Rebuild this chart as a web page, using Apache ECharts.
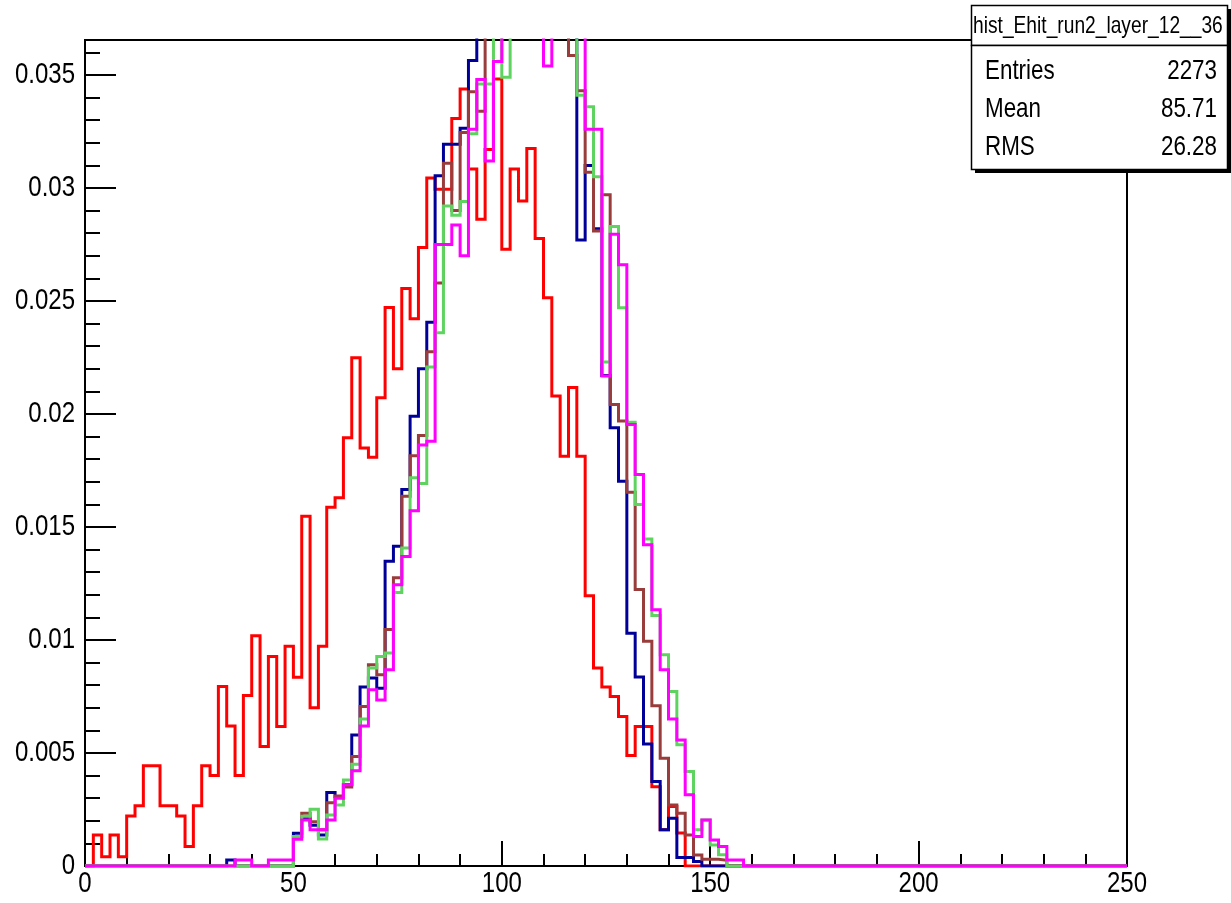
<!DOCTYPE html>
<html>
<head>
<meta charset="utf-8">
<title>hist_Ehit_run2_layer_12__36</title>
<script src="https://cdn.jsdelivr.net/npm/echarts@6.0.0/dist/echarts.min.js"></script>
<style>
  html, body { margin: 0; padding: 0; background: #fff; }
  #chart { width: 1231px; height: 903px; }
</style>
</head>
<body>
<div id="chart"></div>
<script>
// histogram contents, bins of width 2 starting at 0 (bins after the list are empty)
const binWidth = 2;
const nBins = 125;

const red = [
  0, 0.00137, 0.00041, 0.00137, 0.00041, 0.00221, 0.00267, 0.00444, 0.00444, 0.00267,
  0.00267, 0.00221, 0.00086, 0.00267, 0.00444, 0.00400, 0.00794, 0.00620, 0.00400, 0.00755,
  0.01019, 0.00529, 0.00927, 0.00617, 0.00972, 0.00835, 0.01548, 0.00700, 0.00972, 0.01587,
  0.01629, 0.01895, 0.02249, 0.01850, 0.01809, 0.02072, 0.02471, 0.02200, 0.02555, 0.02422,
  0.02737, 0.03044, 0.02995, 0.02995, 0.03308, 0.03438, 0.03084, 0.02862, 0.03170, 0.03482,
  0.02729, 0.03084, 0.02943, 0.03175, 0.02777, 0.02515, 0.02080, 0.01813, 0.02117, 0.01813,
  0.01196, 0.00876, 0.00792, 0.00750, 0.00662, 0.00489, 0.00617, 0.00617, 0.00351, 0.00160,
  0.00263, 0.00146
];

const blue = [
  0, 0, 0, 0, 0, 0, 0, 0, 0, 0,
  0, 0, 0, 0, 0, 0, 0, 0.00027, 0, 0,
  0, 0, 0, 0, 0, 0.00145, 0.00211, 0.00180, 0.00137, 0.00325,
  0.00307, 0.00360, 0.00580, 0.00792, 0.00832, 0.00787, 0.01348, 0.01415, 0.01666, 0.01990,
  0.02200, 0.02406, 0.03054, 0.03194, 0.03194, 0.03264, 0.03564, 0.0385, 0.0402, 0.0410,
  0.0423, 0.0431, 0.0420, 0.0414, 0.0406, 0.0399, 0.0387, 0.0379, 0.0374, 0.02770,
  0.03100, 0.02820, 0.02170, 0.01939, 0.01703, 0.01030, 0.00836, 0.00540, 0.00374, 0.00160,
  0.00211, 0.00038, 0.00038, 0.00020
];

const brown = [
  0, 0, 0, 0, 0, 0, 0, 0, 0, 0,
  0, 0, 0, 0, 0, 0, 0, 0, 0, 0,
  0, 0, 0, 0, 0, 0.00130, 0.00233, 0.00196, 0.00160, 0.00280,
  0.00310, 0.00350, 0.00484, 0.00706, 0.00890, 0.00846, 0.01046, 0.01275, 0.01636, 0.01815,
  0.01905, 0.02275, 0.02580, 0.03110, 0.02900, 0.03246, 0.03426, 0.03340, 0.0376, 0.0395,
  0.0408, 0.0417, 0.0422, 0.0416, 0.0409, 0.0398, 0.0389, 0.0378, 0.03586, 0.03430,
  0.03070, 0.02810, 0.02970, 0.02042, 0.01969, 0.01654, 0.01223, 0.00994, 0.00709, 0.00477,
  0.00270, 0.00233, 0.00137, 0.00049, 0.00030, 0.00030, 0.00025
];

const green = [
  0, 0, 0, 0, 0, 0, 0, 0, 0, 0,
  0, 0, 0, 0, 0, 0, 0, 0, 0, 0,
  0, 0, 0, 0, 0, 0.00130, 0.00220, 0.00251, 0.00120, 0.00226,
  0.00270, 0.00380, 0.00450, 0.00650, 0.00876, 0.00927, 0.00942, 0.01210, 0.01407, 0.01718,
  0.01692, 0.02208, 0.02360, 0.02920, 0.02880, 0.02940, 0.03240, 0.03460, 0.03460, 0.0375,
  0.03490, 0.0382, 0.0396, 0.0405, 0.0409, 0.0401, 0.0392, 0.0384, 0.0373, 0.03410,
  0.03360, 0.03050, 0.02230, 0.02830, 0.02470, 0.01964, 0.01600, 0.01447, 0.01108, 0.00935,
  0.00772, 0.00536, 0.00418, 0.00160, 0.00204, 0.00093, 0.00050
];

const magenta = [
  0, 0, 0, 0, 0, 0, 0, 0, 0, 0,
  0, 0, 0, 0, 0, 0, 0, 0, 0.00027, 0.00027,
  0, 0, 0.00027, 0.00027, 0.00027, 0.00118, 0.00204, 0.00160, 0.00160, 0.00204,
  0.00300, 0.00360, 0.00422, 0.00620, 0.00780, 0.00735, 0.00868, 0.01245, 0.01370, 0.01572,
  0.01863, 0.01880, 0.02750, 0.02750, 0.02836, 0.02700, 0.03260, 0.03480, 0.03120, 0.03560,
  0.0381, 0.0394, 0.0402, 0.0397, 0.0383, 0.03540, 0.0379, 0.0390, 0.0386, 0.0375,
  0.03260, 0.03260, 0.02168, 0.02796, 0.02660, 0.01954, 0.01732, 0.01422, 0.01134, 0.00868,
  0.00651, 0.00558, 0.00315, 0.00130, 0.00204, 0.00115, 0.00086, 0.00027, 0.00027
];

const xTickLabels = ['0', '50', '100', '150', '200', '250'];
const yTickLabels = ['0', '0.005', '0.01', '0.015', '0.02', '0.025', '0.03', '0.035'];

const statsTitle = 'hist_Ehit_run2_layer_12__36';
const statsNames = ['Entries', 'Mean', 'RMS'];
const statsValues = ['2273', '85.71', '26.28'];

// no narrow font installed, so texts are squeezed horizontally like the ROOT output
const FONT = "'Liberation Sans', Arial, sans-serif";
const SQUEEZE = 0.8;

// turn bin contents into step points: left edge of every bin + the last right edge
function outline(values) {
  const pts = [];
  for (let i = 0; i < nBins; i++) {
    pts.push([i * binWidth, values[i] || 0]);
  }
  pts.push([nBins * binWidth, values[nBins - 1] || 0]);
  return pts;
}

function txt(x, y, text, size, align, vAlign) {
  return {
    type: 'text', z: 102, x: x, y: y, scaleX: SQUEEZE, silent: true,
    style: { text: text, fontSize: size, fontFamily: FONT, fill: '#000', align: align, verticalAlign: vAlign }
  };
}

const histos = [
  { values: red, color: '#ff0000' },
  { values: blue, color: '#000099' },
  { values: brown, color: '#993c3c' },
  { values: green, color: '#5fd35f' },
  { values: magenta, color: '#ff00ff' }
];

const chart = echarts.init(document.getElementById('chart'), null, { renderer: 'canvas' });

const boxes = [
  // shadow
  { type: 'rect', z: 100, shape: { x: 975, y: 9, width: 256, height: 164 }, style: { fill: '#000' } },
  // title box
  { type: 'rect', z: 101, shape: { x: 971.5, y: 5.5, width: 256, height: 40 },
    style: { fill: '#fff', stroke: '#000', lineWidth: 1.5 } },
  // stats box
  { type: 'rect', z: 101, shape: { x: 971.5, y: 45.5, width: 256, height: 124 },
    style: { fill: '#fff', stroke: '#000', lineWidth: 1.5 } },
  txt(973, 26, statsTitle, 24, 'left', 'middle')
];
statsNames.forEach((n, i) => boxes.push(txt(985, 71 + i * 38, n, 28, 'left', 'middle')));
statsValues.forEach((v, i) => boxes.push(txt(1217, 71 + i * 38, v, 28, 'right', 'middle')));

const option = {
  animation: false,
  backgroundColor: '#ffffff',
  grid: {
    left: 85, top: 40, width: 1042, height: 826,
    show: true, borderColor: '#000', borderWidth: 2,
    backgroundColor: 'transparent',
    outerBoundsMode: 'none'
  },
  xAxis: [{
    type: 'value', min: 0, max: 250, interval: 50, position: 'bottom',
    axisLine: { show: true, onZero: false, lineStyle: { color: '#000', width: 2 } },
    axisTick: { show: true, inside: true, length: 25, lineStyle: { color: '#000', width: 2 } },
    minorTick: { show: true, splitNumber: 5, length: 12, lineStyle: { color: '#000', width: 2 } },
    axisLabel: { show: false },
    splitLine: { show: false }
  }],
  yAxis: [{
    // minor ticks every 0.001
    type: 'value', min: 0, max: 0.03655, interval: 0.001, position: 'left',
    axisLine: { show: true, onZero: false, lineStyle: { color: '#000', width: 2 } },
    axisTick: { show: true, inside: true, length: 15, lineStyle: { color: '#000', width: 2 } },
    axisLabel: { show: false },
    splitLine: { show: false }
  }, {
    // major ticks
    type: 'value', min: 0, max: 0.03655, interval: 0.005, position: 'left',
    axisLine: { show: false },
    axisTick: { show: true, inside: true, length: 31, lineStyle: { color: '#000', width: 2 } },
    axisLabel: { show: false },
    splitLine: { show: false }
  }],
  series: histos.map(h => ({
    type: 'line',
    xAxisIndex: 0,
    yAxisIndex: 0,
    step: 'end',
    data: outline(h.values),
    symbol: 'none',
    showSymbol: false,
    clip: true,
    silent: true,
    lineStyle: { color: h.color, width: 3, join: 'miter', cap: 'butt' }
  })),
  graphic: boxes
};

chart.setOption(option);

// tick labels placed through the axes' own scales
const labels = [];
yTickLabels.forEach(t => {
  const py = chart.convertToPixel({ yAxisIndex: 0 }, Number(t));
  labels.push(txt(75, py, t, 30, 'right', 'middle'));
});
xTickLabels.forEach(t => {
  const px = chart.convertToPixel({ xAxisIndex: 0 }, Number(t));
  labels.push(txt(px, 869, t, 30, 'center', 'top'));
});
chart.setOption({ graphic: boxes.concat(labels) });
</script>
</body>
</html>
